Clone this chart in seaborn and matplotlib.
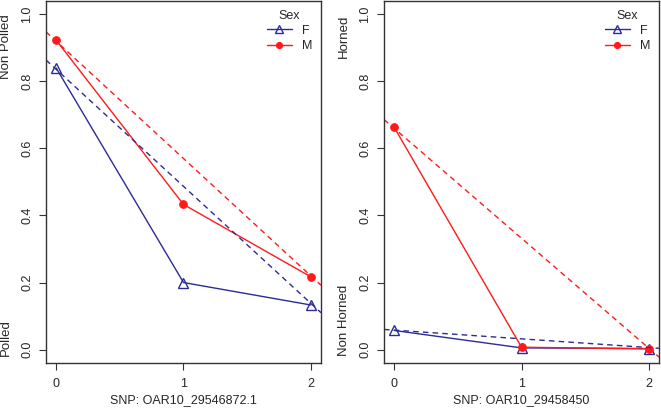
import numpy as np
import pandas as pd
import matplotlib
matplotlib.use('Agg')
import matplotlib.pyplot as plt
import matplotlib.transforms as mtransforms
import seaborn as sns

# genotype classes
genotype = [0, 1, 2]

# left panel: OAR10_29546872.1 (Polled / Non Polled)
polled_F = [0.840, 0.200, 0.133]
polled_M = [0.923, 0.433, 0.217]
# dashed trend lines (intercept, slope)
polled_fit_F = [0.836, -0.349]
polled_fit_M = [0.920, -0.350]

# right panel: OAR10_29458450 (Horned / Non Horned)
horned_F = [0.057, 0.005, 0.003]
horned_M = [0.663, 0.007, 0.002]
horned_fit_F = [0.058, -0.026]
horned_fit_M = [0.660, -0.328]

blue = '#2B2B99'
red = '#FF1A1A'

sns.set_style('ticks')
plt.rcParams['font.family'] = ['Liberation Sans', 'DejaVu Sans']
plt.rcParams['font.size'] = 9

fig = plt.figure(figsize=(6.61, 4.12), dpi=100)
ax1 = fig.add_axes([0.0696, 0.119, 0.416, 0.8786])
ax2 = fig.add_axes([0.581, 0.119, 0.416, 0.8786])

panels = [
    (ax1, polled_F, polled_M, polled_fit_F, polled_fit_M,
     'Non Polled', 'Polled', 'SNP: OAR10_29546872.1'),
    (ax2, horned_F, horned_M, horned_fit_F, horned_fit_M,
     'Horned', 'Non Horned', 'SNP: OAR10_29458450'),
]

for ax, yF, yM, fitF, fitM, top_lab, bot_lab, xlab in panels:
    df = pd.DataFrame({'geno': genotype * 2,
                       'p': yF + yM,
                       'Sex': ['F'] * 3 + ['M'] * 3})
    sns.lineplot(x='geno', y='p', data=df[df.Sex == 'F'], color=blue, label='F',
                 marker='^', markersize=6.5, markerfacecolor='none',
                 markeredgecolor=blue, markeredgewidth=1.0, linewidth=1.0, ax=ax)
    sns.lineplot(x='geno', y='p', data=df[df.Sex == 'M'], color=red, label='M',
                 marker='o', markersize=5.5, markeredgecolor=red, linewidth=1.0, ax=ax)

    # dashed trend lines across the whole panel
    ax.axline((0, fitF[0]), slope=fitF[1], color=blue, ls=(0, (4, 3)), lw=1.0)
    ax.axline((0, fitM[0]), slope=fitM[1], color=red, ls=(0, (4, 3)), lw=1.0)

    ax.set_xlim(-0.08, 2.08)
    ax.set_ylim(-0.04, 1.04)
    ax.set_xticks([0, 1, 2])
    ax.set_yticks([0.0, 0.2, 0.4, 0.6, 0.8, 1.0])
    ax.set_yticklabels(['0.0', '0.2', '0.4', '0.6', '0.8', '1.0'], rotation=90, va='center')
    ax.tick_params(axis='both', length=5, width=0.8, color='#333333', labelsize=9)
    ax.tick_params(axis='x', pad=6)
    ax.tick_params(axis='y', pad=4)
    for s in ax.spines.values():
        s.set_visible(True)
        s.set_linewidth(1.0)
        s.set_color('#333333')

    ax.set_xlabel(xlab, fontsize=9, labelpad=3)
    ax.set_ylabel('')

    trans = mtransforms.blended_transform_factory(ax.transAxes, ax.transData)
    ax.text(-0.145, 1.0, top_lab, rotation=90, ha='center', va='top',
            fontsize=9.5, transform=trans)
    ax.text(-0.145, -0.02, bot_lab, rotation=90, ha='center', va='bottom',
            fontsize=9.5, transform=trans)

    leg = ax.legend(title='Sex', loc='upper right', frameon=False, fontsize=9,
                    title_fontsize=9, handlelength=2.0, borderaxespad=0.3,
                    labelspacing=0.25, markerscale=0.8, bbox_to_anchor=(1.0, 1.0))

fig.savefig('out.png', dpi=100)
